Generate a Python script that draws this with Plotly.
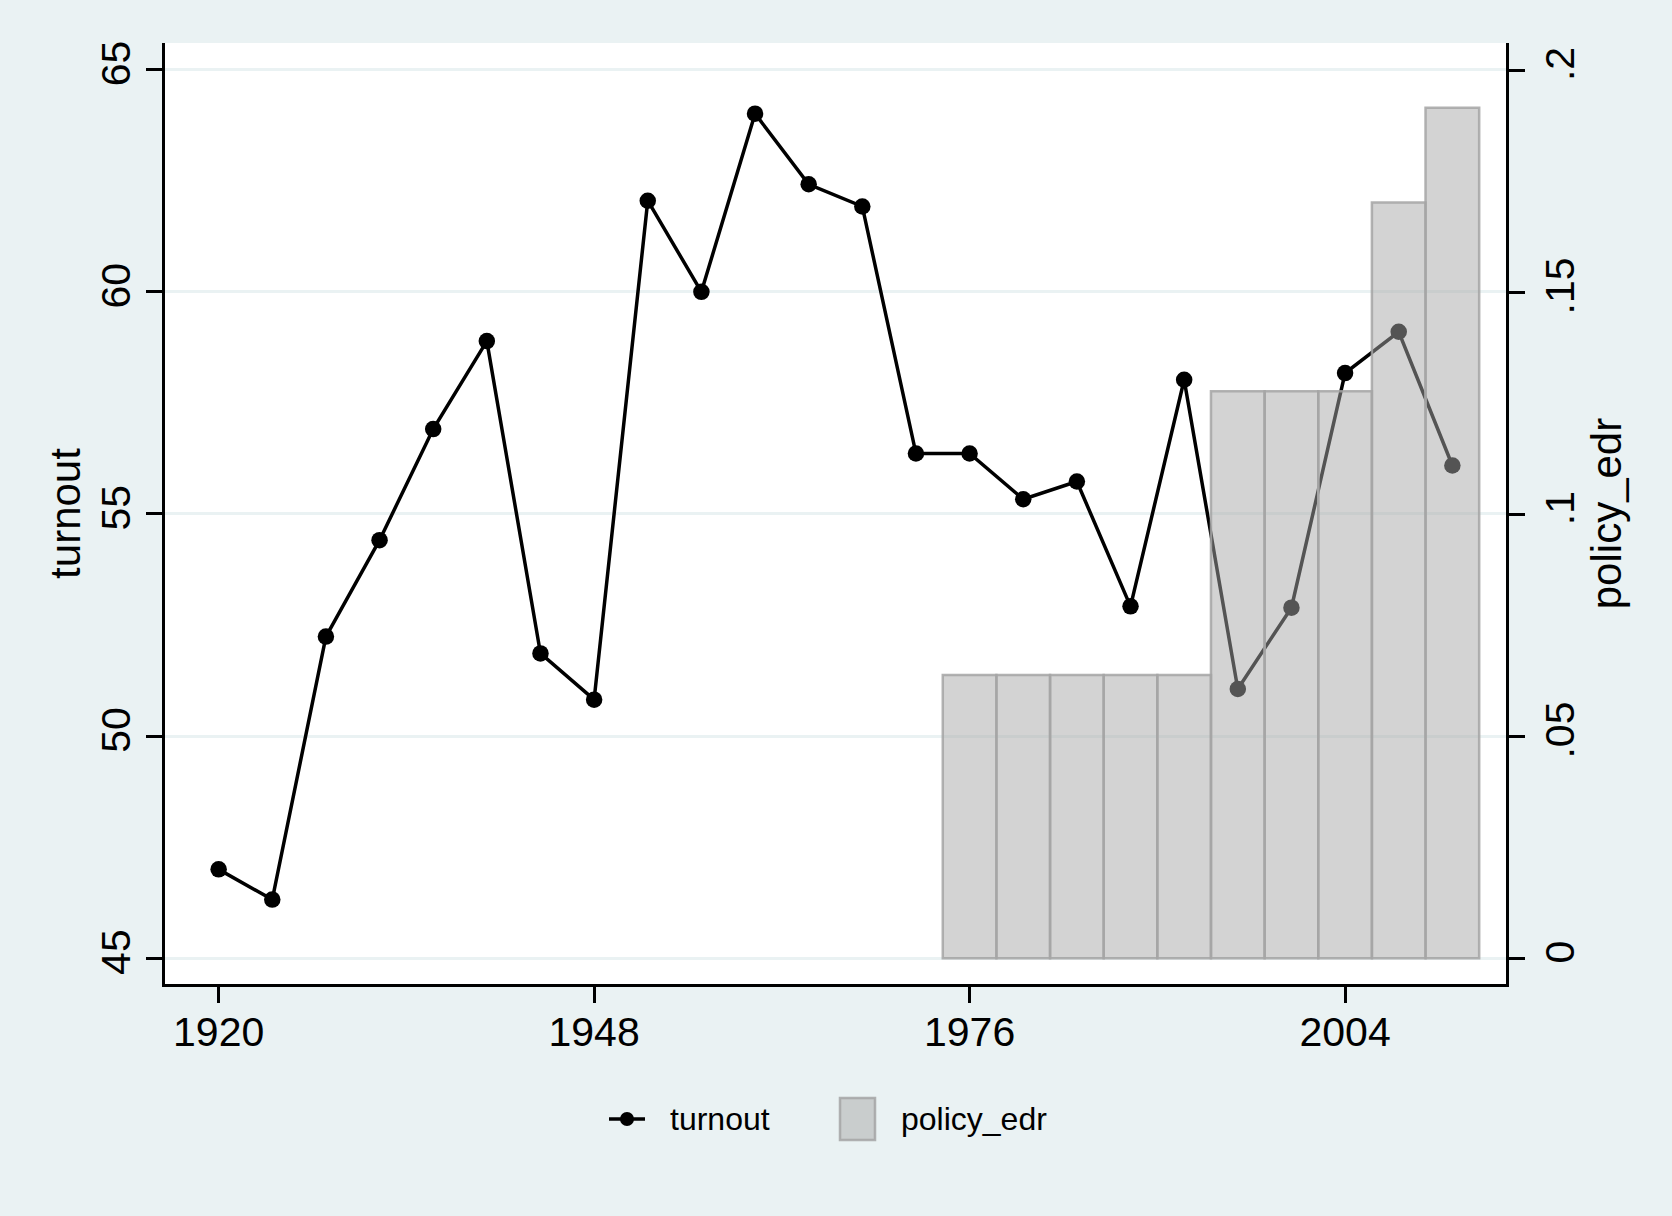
import plotly.graph_objects as go

# ---- data ----
years = [1920, 1924, 1928, 1932, 1936, 1940, 1944, 1948, 1952, 1956, 1960, 1964,
         1968, 1972, 1976, 1980, 1984, 1988, 1992, 1996, 2000, 2004, 2008, 2012]
turnout = [47.0, 46.32, 52.24, 54.41, 56.91, 58.89, 51.86, 50.82, 62.05, 60.0, 64.01, 62.42,
           61.92, 56.36, 56.36, 55.33, 55.73, 52.92, 58.02, 51.06, 52.89, 58.17, 59.10, 56.09]

edr_years = [1976, 1980, 1984, 1988, 1992, 1996, 2000, 2004, 2008, 2012]
policy_edr = [0.0638, 0.0638, 0.0638, 0.0638, 0.0638, 0.1277, 0.1277, 0.1277, 0.1702, 0.1915]

x_ticks = [1920, 1948, 1976, 2004]
y_ticks = [45, 50, 55, 60, 65]
y2_ticks = [0, 0.05, 0.1, 0.15, 0.2]
y2_ticktext = ["0", ".05", ".1", ".15", ".2"]

# ---- style ----
BG = "#EAF2F3"
FONT = "Liberation Sans, Arial, Helvetica, sans-serif"
BAR_FILL = "rgba(168,168,168,0.5)"
BAR_LINE = "rgba(165,165,165,0.85)"

W, H = 1672, 1216
ML, MR, MT, MB = 165, 166, 43, 232
PW, PH = W - ML - MR, H - MT - MB


def px(xp):
    return (xp - ML) / PW


def py(yp):
    return (H - MB - yp) / PH


fig = go.Figure()

fig.add_trace(go.Scatter(
    x=years, y=turnout, mode="lines+markers", name="turnout",
    line=dict(color="black", width=3.5),
    marker=dict(color="black", size=16.5),
    yaxis="y", showlegend=False,
))

fig.add_trace(go.Bar(
    x=edr_years, y=policy_edr, name="policy_edr", width=4,
    marker=dict(color=BAR_FILL, line=dict(color=BAR_LINE, width=2.5)),
    yaxis="y2", showlegend=False,
))

axis_common = dict(
    showline=True, linecolor="black", linewidth=2.5,
    ticks="outside", ticklen=16, tickwidth=2.5, tickcolor="black",
    tickfont=dict(family=FONT, size=41, color="black"),
    zeroline=False,
)

fig.update_layout(
    width=W, height=H,
    margin=dict(l=ML, r=MR, t=MT, b=MB, autoexpand=False),
    paper_bgcolor=BG, plot_bgcolor="white",
    font=dict(family=FONT, color="black"),
    barmode="overlay",
    xaxis=dict(range=[1916, 2016], tickvals=x_ticks, showgrid=False,
               ticklabelstandoff=-6, **axis_common),
    yaxis=dict(range=[44.42, 65.6], tickvals=y_ticks, tickangle=-90,
               showgrid=True, gridcolor=BG, gridwidth=2.5,
               title=dict(text="turnout", font=dict(family=FONT, size=42, color="black"), standoff=0),
               **axis_common),
    yaxis2=dict(range=[-0.0058, 0.2061], tickvals=y2_ticks, ticktext=y2_ticktext,
                tickangle=-90, overlaying="y", side="right", showgrid=False,
                title=dict(text="policy_edr", font=dict(family=FONT, size=42, color="black"), standoff=2),
                **axis_common),
)

# ---- custom legend ----
ly = 1119
fig.add_shape(type="line", xref="paper", yref="paper",
              x0=px(609), x1=px(645), y0=py(ly), y1=py(ly),
              line=dict(color="black", width=3.5))
fig.add_shape(type="circle", xref="paper", yref="paper",
              x0=px(620), x1=px(634), y0=py(ly + 7), y1=py(ly - 7),
              fillcolor="black", line=dict(color="black", width=0))
fig.add_annotation(xref="paper", yref="paper", x=px(668), y=py(ly), text="turnout",
                   showarrow=False, xanchor="left", yanchor="middle",
                   font=dict(family=FONT, size=32, color="black"))
fig.add_shape(type="rect", xref="paper", yref="paper",
              x0=px(840), x1=px(875), y0=py(1140), y1=py(1098),
              fillcolor=BAR_FILL, line=dict(color=BAR_LINE, width=2.5))
fig.add_annotation(xref="paper", yref="paper", x=px(899), y=py(ly), text="policy_edr",
                   showarrow=False, xanchor="left", yanchor="middle",
                   font=dict(family=FONT, size=32, color="black"))

fig.write_html("out.html", config={"displayModeBar": False},
               post_script="document.body.style.margin='0';document.body.style.overflow='hidden';")
